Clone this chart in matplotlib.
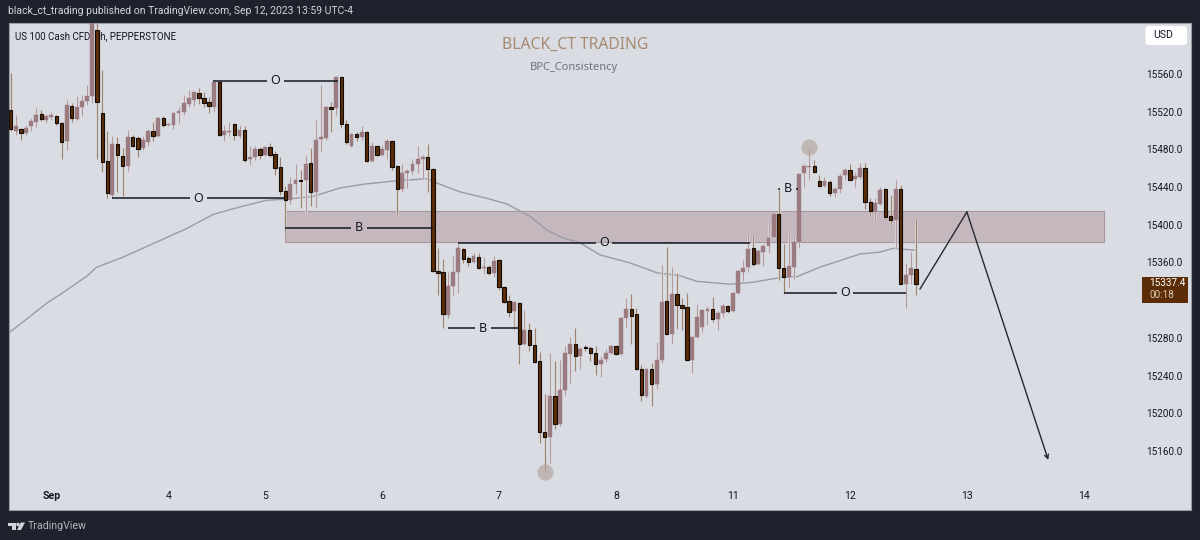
import numpy as np
import matplotlib
matplotlib.use('Agg')
import matplotlib.pyplot as plt
from matplotlib.patches import Rectangle, FancyBboxPatch, Polygon, Circle

plt.rcParams['font.family'] = ['Roboto', 'DejaVu Sans']

# 1h candles, oldest first
opens = [15522, 15500, 15502, 15497, 15505, 15509, 15518, 15511, 15514, 15515, 15508, 15489, 15526, 15512, 15525,
         15531, 15537, 15607, 15519, 15468, 15432, 15486, 15473, 15462, 15493, 15492, 15481, 15488, 15500, 15494,
         15513, 15506, 15506, 15519, 15520, 15528, 15532, 15540, 15535, 15530, 15525, 15551, 15495, 15498, 15507,
         15494, 15501, 15470, 15472, 15480, 15474, 15482, 15475, 15461, 15436, 15426, 15443, 15447, 15447, 15466,
         15435, 15491, 15492, 15525, 15524, 15557, 15507, 15484, 15496, 15493, 15498, 15468, 15484, 15474, 15479,
         15489, 15462, 15438, 15455, 15457, 15465, 15470, 15472, 15459, 15351, 15350, 15304, 15335, 15350, 15374,
         15365, 15360, 15366, 15354, 15355, 15349, 15363, 15334, 15319, 15308, 15317, 15274, 15288, 15272, 15255,
         15180, 15175, 15218, 15189, 15225, 15263, 15273, 15261, 15270, 15269, 15264, 15252, 15258, 15264, 15271,
         15263, 15301, 15311, 15305, 15247, 15218, 15247, 15231, 15257, 15319, 15284, 15327, 15315, 15313, 15257,
         15281, 15292, 15309, 15311, 15300, 15306, 15314, 15308, 15328, 15350, 15355, 15375, 15358, 15371, 15377,
         15387, 15411, 15354, 15345, 15355, 15382, 15455, 15461, 15462, 15446, 15441, 15445, 15434, 15438, 15453,
         15458, 15449, 15451, 15460, 15424, 15414, 15422, 15438, 15409, 15405, 15438, 15337, 15347, 15353]
highs = [15561, 15517, 15503, 15506, 15513, 15524, 15522, 15516, 15520, 15517, 15509, 15532, 15529, 15537, 15538,
         15548, 15630, 15630, 15564, 15499, 15494, 15493, 15481, 15501, 15495, 15494, 15494, 15502, 15509, 15514,
         15515, 15508, 15520, 15525, 15538, 15543, 15542, 15545, 15541, 15536, 15552, 15552, 15506, 15509, 15508,
         15506, 15505, 15484, 15484, 15482, 15484, 15487, 15478, 15472, 15441, 15451, 15464, 15458, 15474, 15481,
         15511, 15548, 15526, 15530, 15558, 15558, 15511, 15497, 15498, 15505, 15500, 15488, 15485, 15485, 15491,
         15490, 15463, 15465, 15459, 15470, 15484, 15474, 15486, 15460, 15375, 15364, 15350, 15368, 15380, 15375,
         15367, 15370, 15370, 15366, 15357, 15367, 15364, 15335, 15326, 15319, 15318, 15310, 15296, 15290, 15265,
         15220, 15264, 15255, 15257, 15271, 15281, 15291, 15270, 15272, 15271, 15271, 15261, 15268, 15272, 15272,
         15302, 15322, 15327, 15312, 15251, 15248, 15253, 15276, 15357, 15376, 15355, 15349, 15322, 15328, 15282,
         15316, 15311, 15314, 15323, 15308, 15317, 15315, 15329, 15352, 15363, 15390, 15387, 15374, 15380, 15403,
         15412, 15437, 15380, 15390, 15389, 15455, 15465, 15482, 15469, 15453, 15451, 15447, 15440, 15455, 15460,
         15464, 15456, 15466, 15466, 15428, 15428, 15440, 15439, 15432, 15447, 15442, 15359, 15371, 15407]
lows = [15500, 15495, 15490, 15495, 15499, 15504, 15510, 15508, 15511, 15506, 15470, 15479, 15509, 15511, 15515,
        15527, 15529, 15470, 15456, 15428, 15428, 15435, 15431, 15457, 15483, 15472, 15479, 15484, 15489, 15493,
        15504, 15505, 15502, 15508, 15517, 15525, 15526, 15528, 15525, 15519, 15520, 15494, 15489, 15494, 15490,
        15492, 15467, 15463, 15469, 15470, 15473, 15472, 15453, 15432, 15394, 15422, 15433, 15418, 15413, 15420,
        15418, 15477, 15490, 15498, 15516, 15503, 15486, 15482, 15489, 15490, 15467, 15467, 15473, 15473, 15470,
        15458, 15410, 15435, 15439, 15453, 15455, 15449, 15435, 15350, 15325, 15291, 15301, 15324, 15328, 15359,
        15356, 15359, 15353, 15348, 15347, 15345, 15331, 15317, 15302, 15288, 15252, 15272, 15266, 15253, 15168,
        15138, 15147, 15183, 15186, 15219, 15231, 15245, 15247, 15266, 15255, 15241, 15238, 15254, 15263, 15262,
        15262, 15292, 15274, 15246, 15213, 15216, 15208, 15226, 15253, 15283, 15274, 15289, 15288, 15256, 15243,
        15280, 15286, 15294, 15297, 15288, 15302, 15306, 15307, 15327, 15340, 15350, 15356, 15357, 15356, 15370,
        15386, 15341, 15328, 15334, 15342, 15375, 15440, 15449, 15455, 15440, 15440, 15431, 15430, 15434, 15447,
        15447, 15440, 15449, 15417, 15409, 15404, 15421, 15407, 15400, 15374, 15336, 15312, 15337, 15325]
closes = [15502, 15505, 15497, 15503, 15510, 15517, 15512, 15515, 15516, 15508, 15488, 15527, 15513, 15525, 15531,
          15537, 15620, 15530, 15467, 15434, 15486, 15474, 15462, 15493, 15484, 15480, 15490, 15499, 15494, 15513,
          15506, 15507, 15519, 15521, 15529, 15534, 15541, 15535, 15529, 15526, 15551, 15495, 15499, 15500, 15495,
          15501, 15469, 15472, 15480, 15474, 15483, 15474, 15460, 15436, 15426, 15443, 15447, 15446, 15465, 15435,
          15490, 15493, 15525, 15523, 15557, 15507, 15488, 15496, 15493, 15498, 15468, 15484, 15474, 15480, 15489,
          15461, 15438, 15455, 15457, 15465, 15470, 15472, 15459, 15351, 15349, 15305, 15335, 15350, 15375, 15364,
          15360, 15367, 15354, 15355, 15349, 15362, 15334, 15318, 15307, 15318, 15274, 15288, 15272, 15254, 15180,
          15175, 15218, 15189, 15225, 15264, 15274, 15261, 15268, 15269, 15264, 15252, 15257, 15264, 15271, 15263,
          15301, 15311, 15303, 15247, 15219, 15247, 15231, 15257, 15318, 15284, 15327, 15315, 15312, 15257, 15281,
          15302, 15310, 15311, 15300, 15306, 15314, 15308, 15328, 15351, 15354, 15374, 15358, 15372, 15378, 15386,
          15411, 15354, 15345, 15356, 15382, 15454, 15462, 15462, 15456, 15441, 15446, 15434, 15438, 15452, 15458,
          15448, 15452, 15460, 15424, 15415, 15423, 15437, 15408, 15405, 15438, 15337, 15347, 15354, 15337.4]

# moving average, sampled along the bar index
ma_x = [-0.33, 2.2, 7.4, 10, 15.1, 16.9, 21.8, 28, 34.6, 39.8, 45.1, 50.3, 53.6, 59.4, 64.7, 69.3, 74.6, 81.9, 84.4,
        88.3, 93.7, 97.6, 102.1, 105.4, 108.6, 111.9, 115.9, 121.8, 127.1, 131.6, 134.9, 141.4, 145.9, 151.3, 154.6,
        159.1, 167, 170.9, 173.5, 177.8]
ma_y = [15285.5, 15296, 15318, 15327, 15346, 15355, 15365, 15380, 15396, 15411, 15419, 15426, 15427, 15430, 15439,
        15443, 15446, 15449, 15443, 15435, 15428, 15422, 15409, 15394.5, 15386, 15381, 15368, 15359.5, 15349, 15346,
        15340, 15337, 15339, 15344, 15345, 15355, 15369, 15371, 15375, 15373]

# 15320 sits behind the last price tag, so it has no label of its own
price_ticks = [15560, 15520, 15480, 15440, 15400, 15360, 15280, 15240, 15200, 15160]
day_pos = [8, 31, 50, 73, 96, 119, 142, 165, 188, 211]
day_labels = ['Sep', '4', '5', '6', '7', '8', '11', '12', '13', '14']

# zone and the labelled levels: start bar, end bar, price, label
zone_low, zone_high = 15381.8, 15414.6
zone_start, zone_end = 53.9, 215
levels_x0 = [39.8, 19.9, 54, 88, 86, 150.9, 152]
levels_x1 = [64.3, 54, 83, 145.4, 99.7, 154.8, 176]
levels_y = [15552.6, 15428.4, 15397, 15381, 15290, 15438, 15328]
levels_txt = ['O', 'O', 'B', 'O', 'B', 'B', 'O']

# projected path after the last bar
path_x = [178.8, 188, 204]
path_y = [15332, 15413.6, 15150.5]

opens, highs, lows, closes = map(np.array, (opens, highs, lows, closes))
bars = np.arange(len(opens))
up = closes >= opens

BG = '#1e222d'
PANEL = '#d9dce3'
DARK = '#5b2c06'
ROSE = '#9b7a80'
INK = '#131722'

W, H = 1200, 540
fig = plt.figure(figsize=(W / 100, H / 100), dpi=100, facecolor=BG)

# chart panel
left, right, top, bottom = 8.5, 1191, 22.7, 510
ax = fig.add_axes([left / W, 1 - bottom / H, (right - left) / W, (bottom - top) / H], facecolor=PANEL)
ax.set_xlim(-0.43, 232.07)
ax.set_ylim(15097.4, 15614.4)
for s in ax.spines.values():
    s.set_color('#9a9da6')
    s.set_linewidth(0.8)

ax.yaxis.tick_right()
ax.set_yticks(price_ticks)
ax.set_yticklabels(['%.1f' % p for p in price_ticks], fontsize=7.2, color=INK)
ax.tick_params(axis='y', length=0, pad=-32)
ax.set_xticks(day_pos)
ax.set_xticklabels(day_labels, fontsize=7.6, color=INK)
ax.tick_params(axis='x', length=0, pad=-14)
ax.get_xticklabels()[0].set_fontweight('bold')
for t in ax.get_xticklabels() + ax.get_yticklabels():
    t.set_zorder(1)

ax.text((15 - left) / (right - left), (bottom - 36) / (bottom - top), 'US 100 Cash CFD, 1h, PEPPERSTONE',
        transform=ax.transAxes, fontsize=7, color=INK, va='center', ha='left', zorder=1)
ax.text((575 - left) / (right - left), (bottom - 45) / (bottom - top), 'BLACK_CT TRADING',
        transform=ax.transAxes, fontsize=11.3, color='#a6896f', va='center', ha='center', zorder=1,
        family=['Noto Sans', 'DejaVu Sans'])
ax.text((574 - left) / (right - left), (bottom - 68) / (bottom - top), 'BPC_Consistency',
        transform=ax.transAxes, fontsize=8, color='#6f727a', va='center', ha='center', zorder=1,
        family=['Noto Sans', 'DejaVu Sans'])

ax.add_patch(Rectangle((zone_start, zone_low), zone_end - zone_start, zone_high - zone_low,
                       facecolor='#c4b8be', edgecolor='#a9979d', linewidth=0.8, zorder=1.5))
ax.plot(ma_x, ma_y, color='#9a9ca3', linewidth=1, zorder=2)

# candles, with the pale edge around each mark
ax.vlines(bars, lows, highs, color='#eceef2', linewidth=2.1, alpha=0.7, zorder=2.2)
ax.vlines(bars[up], lows[up], highs[up], color='#b39aa1', linewidth=1, zorder=2.4)
ax.vlines(bars[~up], lows[~up], highs[~up], color='#9c8570', linewidth=1, zorder=2.4)
ax.bar(bars[up], (closes - opens)[up], bottom=opens[up], width=0.76, color=ROSE, edgecolor=ROSE,
       linewidth=0.3, zorder=3)
ax.bar(bars[~up], (opens - closes)[~up], bottom=closes[~up], width=0.66, color=DARK, edgecolor='#120a04',
       linewidth=0.8, zorder=3)

# swing markers
ax.scatter([bars[np.argmax(highs[100:]) + 100], bars[np.argmin(lows)]],
           [highs[100:].max(), lows.min()], s=135, color='#b5a8a0', alpha=0.7, linewidths=0, zorder=3.5)

half_gap = 1.6
for x0, x1, y, txt in zip(levels_x0, levels_x1, levels_y, levels_txt):
    mid = (x0 + x1) / 2
    ax.plot([x0, mid - half_gap], [y, y], color=INK, linewidth=1.1, solid_capstyle='butt', zorder=4)
    ax.plot([mid + half_gap, x1], [y, y], color=INK, linewidth=1.1, solid_capstyle='butt', zorder=4)
    ax.text(mid, y, txt, fontsize=9, color=INK, ha='center', va='center', zorder=4,
            family=['Noto Sans', 'DejaVu Sans'])

ax.plot(path_x[:2], path_y[:2], color='#26282e', linewidth=1, zorder=4)
ax.annotate('', xy=(path_x[2], path_y[2]), xytext=(path_x[1], path_y[1]),
            arrowprops=dict(arrowstyle='->', color='#26282e', lw=1, shrinkA=0, shrinkB=0,
                            mutation_scale=7), zorder=4)

# overlay in pixel units for the chrome around the chart
ov = fig.add_axes([0, 0, 1, 1], facecolor='none')
ov.set_xlim(0, W)
ov.set_ylim(H, 0)
ov.axis('off')

ov.text(8, 11, 'black_ct_trading published on TradingView.com, Sep 12, 2023 13:59 UTC-4',
        fontsize=7.5, color='#d1d4dc', va='center', ha='left')

ov.add_patch(FancyBboxPatch((1147, 27.5), 38.5, 16, boxstyle='round,pad=1.5,rounding_size=3',
                            facecolor='white', edgecolor='none'))
ov.text(1153, 35.5, 'USD', fontsize=7.6, color=INK, va='center', ha='left')

ov.add_patch(Rectangle((1141.5, 276.5), 46.5, 26, facecolor=DARK, edgecolor='none'))
ov.text(1149, 283.5, '%.1f' % closes[-1], fontsize=7.2, color='white', va='center', ha='left')
ov.text(1149, 295, '00:18', fontsize=7.2, color='#dcc9b5', va='center', ha='left')

# footer logo
logo = '#d1d4dc'
ov.add_patch(Polygon([(8, 522.5), (15.5, 522.5), (15.5, 530), (11.5, 530), (11.5, 526), (8, 526)], facecolor=logo))
ov.add_patch(Circle((18, 524.5), 1.8, facecolor=logo))
ov.add_patch(Polygon([(20.8, 522.5), (25, 522.5), (21, 530), (17, 530)], facecolor=logo))
ov.text(28, 526, 'TradingView', fontsize=7.7, color='#b2b5be', va='center', ha='left')

fig.savefig('out.png', dpi=100, facecolor=BG)
